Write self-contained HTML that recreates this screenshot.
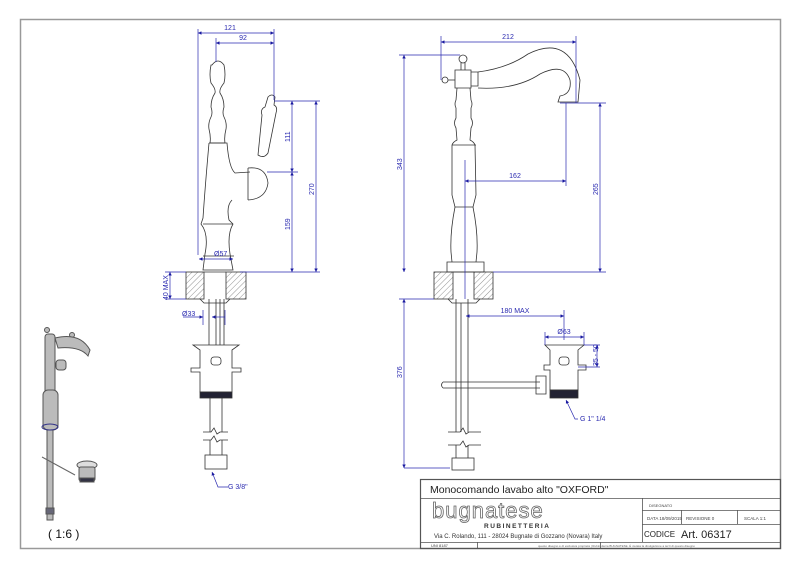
<!DOCTYPE html>
<html><head><meta charset="utf-8"><style>
html,body{margin:0;padding:0;background:#fff;width:800px;height:566px;overflow:hidden}
svg{display:block}
text{font-family:"Liberation Sans",sans-serif}
</style></head><body>
<svg width="800" height="566" viewBox="0 0 800 566" xmlns="http://www.w3.org/2000/svg">
<defs>
<pattern id="h" width="4" height="4" patternUnits="userSpaceOnUse" patternTransform="rotate(45)">
<line x1="0" y1="0" x2="0" y2="4" stroke="#777" stroke-width="0.8"/></pattern>
<marker id="a" viewBox="0 0 6 6" refX="6" refY="3" markerWidth="5" markerHeight="5" orient="auto-start-reverse"><path d="M0,0L6,3L0,6z" fill="#1a1aa0"/></marker>
</defs>
<rect x="20.5" y="19.5" width="760" height="529" fill="none" stroke="#999" stroke-width="1.5"/>

<!-- LEFT VIEW -->
<g fill="none" stroke="#333" stroke-width="0.8">
<path d="M212,65 q6,-8 12,0 q2,10 0,18 q-5,6 -4,10 q4,6 4,14 q-2,6 0,10 q3,6 2,12 q-2,8 -1,14 L210,143 q1,-6 -1,-14 q-1,-6 2,-12 q2,-4 0,-10 q0,-8 4,-14 q1,-4 -4,-10 q-2,-8 0,-18z"/>
<path d="M209,143 L227,143 q2,25 8,30 L250,172 M248,168 q18,-2 20,15 q-2,16 -20,17 M248,168 L248,200 M232,200 q-6,6 -3,20 l4,4 q-6,10 -3,30 l3,16 L203,270 l2,-16 q4,-20 -4,-30 l2,-6 q2,-30 6,-75"/>
<path d="M203,224 L233,224 M203,256 L234,256"/>
<path d="M268,97 q4,-4 7,0 l-1,8 q4,2 2,8 l-8,40 q-4,6 -10,2 l4,-40 q-2,-6 3,-8z"/>
<rect x="186" y="272" width="18" height="27" fill="url(#h)"/>
<rect x="226" y="272" width="20" height="27" fill="url(#h)"/>
<path d="M204,272 L226,272 M200,299 l4,4 l22,0 l4,-4 M209,299 L209,345 M224,299 L224,345 M216,299 L216,345 M220,299 L220,345"/>
<path d="M193,345 L239,345 L232,350 L232,368 L241,368 L241,372 L232,372 L232,392 L200,392 L200,372 L191,372 L191,368 L200,368 L200,350z"/>
<rect x="211" y="357" width="10" height="8" rx="3"/>
<rect x="200" y="392" width="32" height="6" fill="#223"/>
<path d="M210,398 L210,432 M222,398 L222,432 M203,432 l8,0 l3,-4 l3,6 l3,-2 l8,0 M203,440 l8,0 l3,-4 l3,6 l3,-2 l8,0 M210,440 L210,455 M222,440 L222,455"/>
<rect x="205" y="455" width="22" height="14"/>
</g>
<g stroke="#2a2ab0" stroke-width="0.7" fill="none">
<path d="M198,29 L198,255 M274,29 L274,100 M216,38 L216,62"/>
<line x1="198" y1="33" x2="274" y2="33" marker-start="url(#a)" marker-end="url(#a)"/>
<line x1="216" y1="43" x2="274" y2="43" marker-start="url(#a)" marker-end="url(#a)"/>
<path d="M274,101 L320,101 M267,172 L298,172 M240,272 L320,272"/>
<line x1="292" y1="101" x2="292" y2="172" marker-start="url(#a)" marker-end="url(#a)"/>
<line x1="292" y1="172" x2="292" y2="272" marker-start="url(#a)" marker-end="url(#a)"/>
<line x1="316" y1="101" x2="316" y2="272" marker-start="url(#a)" marker-end="url(#a)"/>
<line x1="199" y1="259" x2="233" y2="259" marker-start="url(#a)" marker-end="url(#a)"/>
<path d="M165,272 L186,272 M165,299 L186,299 M203,310 L203,325 M225,310 L225,325"/>
<line x1="170" y1="272" x2="170" y2="299" marker-start="url(#a)" marker-end="url(#a)"/>
<line x1="183" y1="317" x2="203" y2="317" marker-end="url(#a)"/>
<line x1="225" y1="317" x2="212" y2="317" marker-end="url(#a)"/>
<path d="M228,487 L218,487 L212,472" marker-end="url(#a)"/>
</g>
<g fill="#2a2ab0" font-size="7">
<text x="230" y="30" text-anchor="middle">121</text>
<text x="243" y="40" text-anchor="middle">92</text>
<text x="214" y="256">Ø57</text>
<text x="182" y="316">Ø33</text>
<text x="228" y="489">G 3/8"</text>
<text transform="translate(290,142) rotate(-90)">111</text>
<text transform="translate(290,230) rotate(-90)">159</text>
<text transform="translate(314,195) rotate(-90)">270</text>
<text transform="translate(168,300) rotate(-90)">40 MAX</text>
</g>

<!-- RIGHT VIEW -->
<g fill="none" stroke="#333" stroke-width="0.8">
<circle cx="463" cy="59" r="4"/><path d="M461,63 L461,70 M465,63 L465,70"/>
<circle cx="445" cy="80" r="3"/><path d="M448,80 L455,80"/>
<path d="M455,70 L471,70 L471,88 L455,88z M471,72 L478,72 L478,86 L471,86"/>
<path d="M478,72 q30,-4 50,-18 q40,-20 52,26 l-2,22 l-20,0 l2,-6 q12,-2 10,-16 q-6,-18 -30,-6 q-24,16 -62,14"/>
<path d="M457,88 L456,100 q-2,4 0,8 L456,118 q-3,5 0,10 L457,140 q-4,2 -5,5 L452,195 l3,12 q-5,25 -4,45 L452,262 M470,88 L471,100 q2,4 0,8 L471,118 q3,5 0,10 L470,140 q4,2 5,5 L476,195 l-3,12 q5,25 4,45 L476,262 M452,145 L476,145 M455,207 L473,207"/>
<path d="M447,262 L484,262 L484,272 L447,272z"/>
<rect x="434" y="272" width="19" height="27" fill="url(#h)"/>
<rect x="474" y="272" width="19" height="27" fill="url(#h)"/>
<path d="M453,272 L474,272 M448,299 l4,4 l24,0 l4,-4 M456,299 L456,432 M468,299 L468,432 M461,303 L461,432"/>
<path d="M443,382 L540,382 M443,388 L540,388 M443,382 q-3,3 0,6"/>
<path d="M536,376 L546,376 L546,394 L536,394z"/>
<path d="M545,345 L584,345 L578,350 L578,365 L586,365 L586,370 L578,370 L578,390 L550,390 L550,370 L544,370 L544,365 L550,365 L550,350z"/>
<rect x="559" y="357" width="10" height="8" rx="3"/>
<rect x="550" y="390" width="28" height="8" fill="#223"/>
<path d="M448,432 l12,0 l3,-4 l3,6 l3,-2 l12,0 M448,445 l12,0 l3,-4 l3,6 l3,-2 l12,0 M456,445 L456,458 M468,445 L468,458"/>
<rect x="452" y="458" width="22" height="12"/>
</g>
<g stroke="#2a2ab0" stroke-width="0.7" fill="none">
<path d="M441,36 L441,80 M576,36 L576,103 M399,55 L460,55 M399,299 L434,299 M560,103 L606,103 M566,103 L566,186 M465,160 L465,299 M493,272 L606,272 M564,310 L564,340"/>
<line x1="441" y1="42" x2="576" y2="42" marker-start="url(#a)" marker-end="url(#a)"/>
<line x1="404" y1="55" x2="404" y2="272" marker-start="url(#a)" marker-end="url(#a)"/>
<line x1="404" y1="299" x2="404" y2="468" marker-start="url(#a)" marker-end="url(#a)"/>
<line x1="404" y1="468" x2="450" y2="468"/>
<line x1="600" y1="103" x2="600" y2="272" marker-start="url(#a)" marker-end="url(#a)"/>
<line x1="465" y1="181" x2="566" y2="181" marker-start="url(#a)" marker-end="url(#a)"/>
<line x1="466" y1="316" x2="564" y2="316" marker-start="url(#a)" marker-end="url(#a)"/>
<line x1="545" y1="337" x2="584" y2="337" marker-start="url(#a)" marker-end="url(#a)"/>
<path d="M545,332 L545,345 M584,332 L584,345 M584,345 L600,345 M578,367 L600,367"/>
<line x1="597" y1="345" x2="597" y2="367" marker-start="url(#a)" marker-end="url(#a)"/>
<path d="M578,419 L575,419 L566,400" marker-end="url(#a)"/>
</g>
<g fill="#2a2ab0" font-size="7">
<text x="508" y="39" text-anchor="middle">212</text>
<text x="515" y="178" text-anchor="middle">162</text>
<text x="515" y="313" text-anchor="middle">180 MAX</text>
<text x="564" y="334" text-anchor="middle">Ø63</text>
<text x="580" y="421">G 1" 1/4</text>
<text transform="translate(402,170) rotate(-90)">343</text>
<text transform="translate(598,195) rotate(-90)">265</text>
<text transform="translate(402,378) rotate(-90)">376</text>
<text transform="translate(598,366) rotate(-90)">35 - 50</text>
</g>

<!-- THUMBNAIL -->
<g stroke="#555" stroke-width="1" fill="#bbb">
<circle cx="47" cy="330" r="2.5"/><circle cx="72" cy="335" r="2.5"/>
<path d="M55,338 q25,-6 35,12 l-2,6 q-8,-10 -30,-8z"/>
<rect x="45" y="334" width="10" height="60" rx="3"/>
<rect x="56" y="360" width="10" height="10" rx="3"/>
<rect x="43" y="390" width="15" height="40" rx="5"/>
<rect x="47" y="430" width="6" height="90"/>
<ellipse cx="50" cy="427" rx="8" ry="3" fill="none" stroke="#338"/>
<line x1="42" y1="457" x2="75" y2="475" stroke="#666"/>
<ellipse cx="87" cy="465" rx="10" ry="4" fill="#ddd"/>
<rect x="79" y="467" width="16" height="14" rx="2"/>
<rect x="80" y="478" width="14" height="4" fill="#334"/>
<rect x="46" y="508" width="8" height="6" fill="#667"/>
</g>
<text x="48" y="538" font-size="12" fill="#111">( 1:6 )</text>

<!-- TITLE BLOCK -->
<g fill="none" stroke="#555" stroke-width="0.8">
<rect x="420.5" y="479.5" width="360" height="69" stroke-width="1.2"/>
<path d="M420,498.5 L781,498.5 M642.5,498 L642.5,542 M642,510.5 L781,510.5 M642,524.5 L781,524.5 M681.5,510 L681.5,524 M737.5,510 L737.5,524 M420,542.5 L781,542.5 M477.5,542 L477.5,548 M600.5,542 L600.5,548"/>
</g>
<text x="430" y="493" font-size="10.5" fill="#222">Monocomando lavabo alto "OXFORD"</text>
<text x="432" y="518" font-size="22" fill="#fff" stroke="#666" stroke-width="0.8" letter-spacing="1">bugnatese</text>
<text x="484" y="528" font-size="6.5" font-weight="bold" fill="#333" letter-spacing="1.5">RUBINETTERIA</text>
<text x="434" y="538" font-size="6" fill="#333">Via C. Rolando, 111 - 28024 Bugnate di Gozzano (Novara) Italy</text>
<text x="649" y="507" font-size="4" fill="#444">DISEGNATO</text>
<text x="647" y="520" font-size="4.5" fill="#444">DATA   18/09/2015</text>
<text x="686" y="520" font-size="4.5" fill="#444">REVISIONE  0</text>
<text x="744" y="520" font-size="4.5" fill="#444">SCALA  1:1</text>
<text x="644" y="537" font-size="8" fill="#222">CODICE</text>
<text x="681" y="538" font-size="11" fill="#222">Art. 06317</text>
<text x="431" y="547" font-size="4" fill="#444">UNI 8187</text>
<text x="538" y="547" font-size="3" fill="#666">questo disegno è di esclusiva proprietà | Rubinetteria BUGNATESE. È vietata la divulgazione a terzi di questo disegno</text>
</svg>
</body></html>
